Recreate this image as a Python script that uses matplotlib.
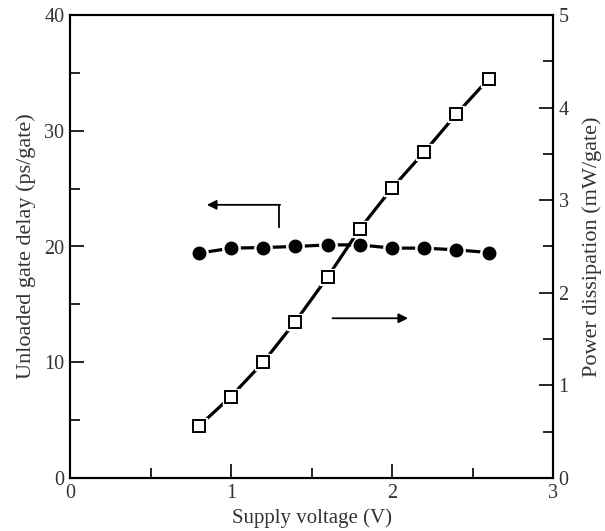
import matplotlib
matplotlib.use("Agg")
import matplotlib.pyplot as plt
from matplotlib.ticker import MultipleLocator

voltage = [0.8, 1.0, 1.2, 1.4, 1.6, 1.8, 2.0, 2.2, 2.4, 2.6]
delay = [19.42, 19.86, 19.91, 20.0, 20.14, 20.14, 19.86, 19.86, 19.71, 19.48]
power = [0.56, 0.88, 1.25, 1.69, 2.17, 2.69, 3.13, 3.52, 3.93, 4.31]

plt.rcParams['font.family'] = ['Liberation Serif', 'DejaVu Serif']
tc = '#333333'

fig = plt.figure(figsize=(6.05, 5.31), dpi=100)
ax = fig.add_axes([70/605, 53/531, 483/605, 463/531])
ax2 = ax.twinx()

ax.set_xlim(0, 3)
ax.set_ylim(0, 40)
ax2.set_ylim(0, 5)

lw = 2.3
# delay (filled circles)
ax.plot(voltage, delay, '-', color='black', lw=lw, zorder=2)
ax.plot(voltage, delay, 'o', ms=12.5, mfc='white', mec='white', zorder=3)
ax.plot(voltage, delay, 'o', ms=9, mfc='black', mec='black', zorder=4)

# power (open squares)
ax2.plot(voltage, power, '-', color='black', lw=lw, zorder=2)
ax2.plot(voltage, power, 's', ms=12, mfc='white', mec='white', zorder=3)
ax2.plot(voltage, power, 's', ms=8.3, mfc='white', mec='black', mew=1.4, zorder=4)

# arrows
ax.plot([1.30, 1.30], [21.7, 23.6], color='black', lw=1.3)
ax.annotate('', xy=(0.85, 23.6), xytext=(1.305, 23.6),
            arrowprops=dict(arrowstyle='-|>', color='black', lw=1.3,
                            mutation_scale=14, shrinkA=0, shrinkB=0))
ax.annotate('', xy=(2.10, 13.8), xytext=(1.63, 13.8),
            arrowprops=dict(arrowstyle='-|>', color='black', lw=1.3,
                            mutation_scale=14, shrinkA=0, shrinkB=0))

# ticks
ax.set_xticks([0, 1, 2, 3])
ax.xaxis.set_minor_locator(MultipleLocator(0.5))
ax.set_yticks([0, 10, 20, 30, 40])
ax.yaxis.set_minor_locator(MultipleLocator(5))
ax2.set_yticks([0, 1, 2, 3, 4, 5])
ax2.yaxis.set_minor_locator(MultipleLocator(0.5))

for a in (ax, ax2):
    a.tick_params(which='major', direction='in', length=10, width=1.2,
                  labelsize=14.5, labelcolor=tc, pad=4)
    a.tick_params(which='minor', direction='in', length=7, width=1.2)
    for s in a.spines.values():
        s.set_linewidth(1.5)
ax.tick_params(axis='x', top=False)
ax.tick_params(axis='x', which='minor', top=False)

ax.set_xlabel('Supply voltage (V)', fontsize=15, color=tc, labelpad=4)
ax.set_ylabel('Unloaded gate delay (ps/gate)', fontsize=16, color=tc, labelpad=6)
ax2.set_ylabel('Power dissipation (mW/gate)', fontsize=16, color=tc, labelpad=10)

fig.savefig('out.png', dpi=100)
